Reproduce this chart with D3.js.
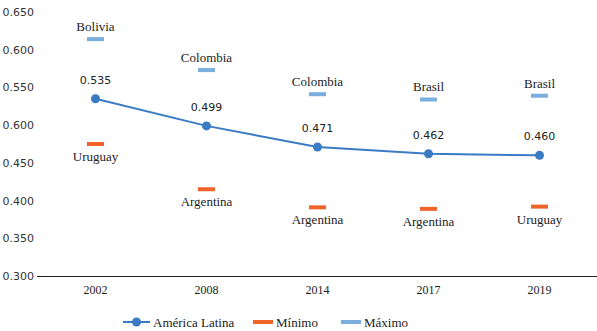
<!DOCTYPE html>
<html>
<head>
<meta charset="utf-8">
<script src="https://cdn.jsdelivr.net/npm/d3@7"></script>
<style>
  body { margin: 0; background: #fff; }
</style>
</head>
<body>
<script>
// data
var years = ["2002", "2008", "2014", "2017", "2019"];
var latam = [0.535, 0.499, 0.471, 0.462, 0.460];
var minVals = [0.475, 0.415, 0.391, 0.389, 0.392];
var minNames = ["Uruguay", "Argentina", "Argentina", "Argentina", "Uruguay"];
var maxVals = [0.614, 0.573, 0.541, 0.534, 0.539];
var maxNames = ["Bolivia", "Colombia", "Colombia", "Brasil", "Brasil"];
var yTicks = [0.300, 0.350, 0.400, 0.450, 0.500, 0.550, 0.600, 0.650];
// the source chart prints 0.600 where 0.500 belongs; kept as shown
var yTickLabels = ["0.300", "0.350", "0.400", "0.450", "0.600", "0.550", "0.600", "0.650"];

var width = 597, height = 331;
var blue = "#3a7bc4", orange = "#f0642a", light = "#7aaedf";
var serif = "Liberation Serif, Times New Roman, serif";
var sans = "DejaVu Sans, sans-serif";

var svg = d3.select("body").append("svg")
    .attr("width", width).attr("height", height);

var x = d3.scaleBand().domain(years).range([40, 595]);
var y = d3.scaleLinear().domain([0.3, 0.65]).range([276, 12]);
var cx = function(d, i) { return x(years[i]) + x.bandwidth() / 2; };

// y axis: labels only
var yAxis = d3.axisLeft(y).tickValues(yTicks)
    .tickFormat(function(d, i) { return yTickLabels[i]; })
    .tickSize(0).tickPadding(0);
var gy = svg.append("g").attr("transform", "translate(34,0)").call(yAxis);
gy.select(".domain").remove();
gy.selectAll("text").style("font-family", sans).style("font-size", "11px").attr("fill", "#333");

// x axis
var gx = svg.append("g").attr("transform", "translate(0,276)")
    .call(d3.axisBottom(x).tickSize(0).tickPadding(9));
gx.select(".domain").attr("stroke", "#222").attr("d", "M37,0.5H597");
gx.selectAll("text").style("font-family", serif).style("font-size", "12px").attr("fill", "#222");

// max markers
svg.selectAll("rect.max").data(maxVals).enter().append("rect")
    .attr("class", "max")
    .attr("x", function(d, i) { return cx(d, i) - 8.5; })
    .attr("y", function(d) { return y(d) - 2; })
    .attr("width", 17).attr("height", 4).attr("fill", light);
svg.selectAll("text.maxl").data(maxVals).enter().append("text")
    .attr("class", "maxl")
    .attr("x", cx).attr("y", function(d) { return y(d) - 8; })
    .attr("text-anchor", "middle")
    .style("font-family", serif).style("font-size", "13px").attr("fill", "#222")
    .text(function(d, i) { return maxNames[i]; });

// min markers
svg.selectAll("rect.min").data(minVals).enter().append("rect")
    .attr("class", "min")
    .attr("x", function(d, i) { return cx(d, i) - 8.5; })
    .attr("y", function(d) { return y(d) - 2; })
    .attr("width", 17).attr("height", 4).attr("fill", orange);
svg.selectAll("text.minl").data(minVals).enter().append("text")
    .attr("class", "minl")
    .attr("x", cx).attr("y", function(d) { return y(d) + 17; })
    .attr("text-anchor", "middle")
    .style("font-family", serif).style("font-size", "13px").attr("fill", "#222")
    .text(function(d, i) { return minNames[i]; });

// América Latina line
var line = d3.line().x(cx).y(function(d) { return y(d); });
svg.append("path").datum(latam).attr("d", line)
    .attr("fill", "none").attr("stroke", blue).attr("stroke-width", 2);
svg.selectAll("circle.pt").data(latam).enter().append("circle")
    .attr("class", "pt").attr("cx", cx).attr("cy", function(d) { return y(d); })
    .attr("r", 4.5).attr("fill", blue);
svg.selectAll("text.val").data(latam).enter().append("text")
    .attr("x", cx).attr("y", function(d) { return y(d) - 15; })
    .attr("text-anchor", "middle")
    .style("font-family", sans).style("font-size", "11px").attr("fill", "#222")
    .text(function(d) { return d3.format(".3f")(d); });

// legend
var lg = svg.append("g").attr("transform", "translate(0,322)");
lg.append("line").attr("x1", 123).attr("x2", 150).attr("y1", 0).attr("y2", 0)
    .attr("stroke", blue).attr("stroke-width", 2);
lg.append("circle").attr("cx", 136.5).attr("cy", 0).attr("r", 4.5).attr("fill", blue);
lg.append("rect").attr("x", 253).attr("y", -2).attr("width", 20).attr("height", 4).attr("fill", orange);
lg.append("rect").attr("x", 341).attr("y", -2).attr("width", 20).attr("height", 4).attr("fill", light);
var legText = [["América Latina", 153], ["Mínimo", 276], ["Máximo", 364]];
lg.selectAll("text").data(legText).enter().append("text")
    .attr("x", function(d) { return d[1]; }).attr("y", 4.5)
    .style("font-family", serif).style("font-size", "13px").attr("fill", "#222")
    .text(function(d) { return d[0]; });
</script>
</body>
</html>
